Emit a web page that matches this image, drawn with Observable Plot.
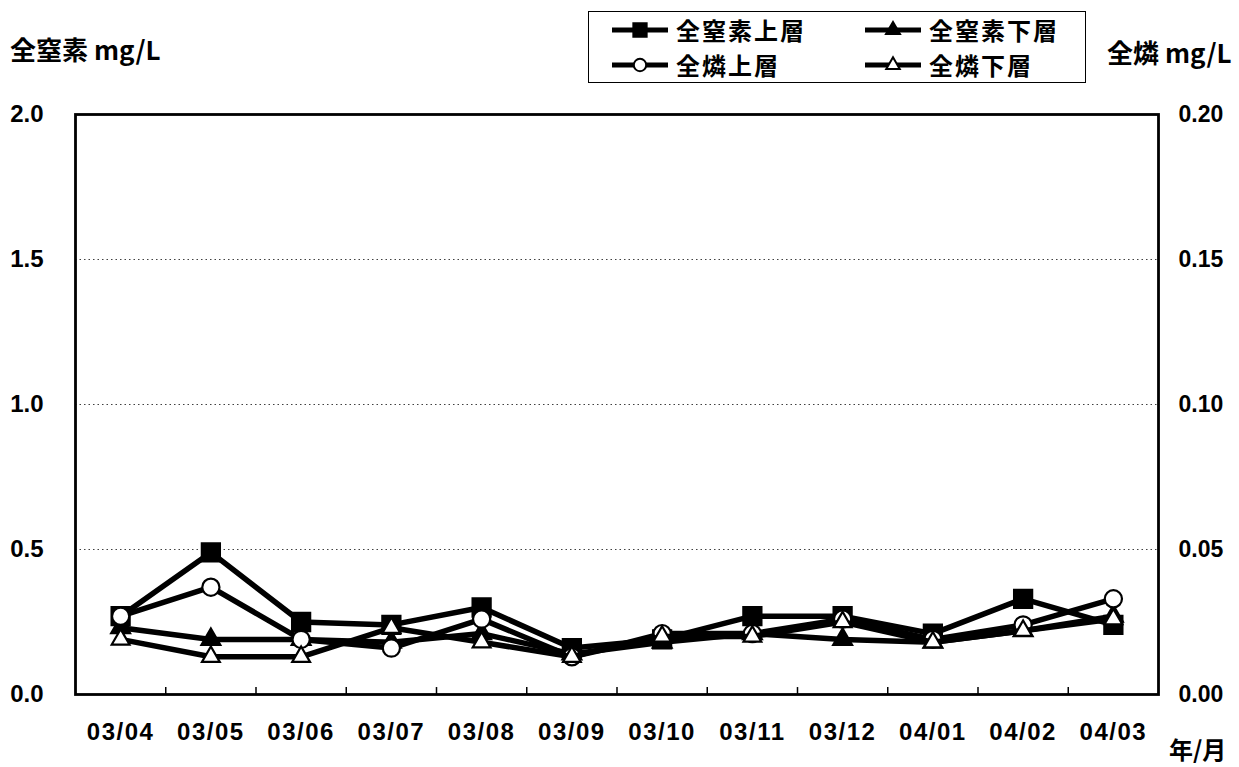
<!DOCTYPE html>
<html><head><meta charset="utf-8">
<script src="https://cdn.jsdelivr.net/npm/d3@7"></script>
<script src="https://cdn.jsdelivr.net/npm/@observablehq/plot@0.6"></script>
<style>
body{margin:0;background:#fff;}
#wrap{position:relative;width:1239px;height:767px;overflow:hidden;background:#fff;font-family:"Noto Sans CJK JP","Liberation Sans",sans-serif;color:#000;}
.lbl{position:absolute;white-space:nowrap;font-weight:700;line-height:1;}
#legend{position:absolute;left:588px;top:11px;width:498px;height:72px;border:1px solid #000;box-sizing:border-box;background:#fff;}
.li{position:absolute;display:flex;align-items:center;font-size:24px;letter-spacing:2px;font-weight:700;line-height:1;height:26px;}
.li svg{margin-right:7px;}
#wrap svg g[aria-label="x-axis tick label"] text{letter-spacing:1.5px;}
</style></head>
<body><div id="wrap"></div>
<script>
const months = ["03/04","03/05","03/06","03/07","03/08","03/09","03/10","03/11","03/12","04/01","04/02","04/03"];
const seriesNames = ["全窒素上層","全窒素下層","全燐上層","全燐下層"];
// 全窒素 (mg/L)
const tnUpper = [0.27,0.49,0.25,0.24,0.30,0.16,0.19,0.27,0.27,0.21,0.33,0.24];
const tnLower = [0.23,0.19,0.19,0.18,0.21,0.14,0.18,0.21,0.19,0.18,0.22,0.27];
// 全燐 (mg/L)
const tpUpper = [0.027,0.037,0.019,0.016,0.026,0.013,0.021,0.021,0.026,0.019,0.024,0.033];
const tpLower = [0.019,0.013,0.013,0.023,0.018,0.013,0.020,0.020,0.025,0.018,0.022,0.026];
const leftTicks = [0,0.5,1.0,1.5,2.0];
const gridTicks = [0.5,1.0,1.5];
const pFactor = 10; // right axis 0.20 ↔ left axis 2.0

const styles = [
  {symbol:"square", fill:"#000", stroke:"#000", r:10.2, lr:7.5},
  {symbol:"triangle", fill:"#000", stroke:"#000", r:7, lr:5.2},
  {symbol:"circle", fill:"#fff", stroke:"#000", r:8.6, lr:6.2},
  {symbol:"triangle", fill:"#fff", stroke:"#000", r:6.6, lr:5}
];
const seriesVals = [tnUpper, tnLower, tpUpper.map(v=>v*pFactor), tpLower.map(v=>v*pFactor)];
const tables = seriesVals.map((vals,k)=>vals.map((v,i)=>({name:seriesNames[k], i, y:v})));

const bounds = d3.range(months.length-1).map(i=>i+0.5);

const marks = [
  Plot.gridY(gridTicks, {stroke:"#000", strokeOpacity:0.75, strokeDasharray:"1.5,3"}),
  Plot.ruleX(bounds, {y1:0, y2:0.024, stroke:"#000", strokeWidth:1.5}),
  Plot.axisY(leftTicks, {anchor:"left", tickSize:0, tickPadding:32, tickFormat:d3.format(".1f"), fontSize:24, label:null}),
  Plot.axisY(leftTicks, {anchor:"right", tickSize:0, tickPadding:20, tickFormat:d=>(d/pFactor).toFixed(2), fontSize:23, label:null}),
  Plot.axisX(d3.range(months.length), {anchor:"bottom", tickSize:0, tickPadding:28, tickFormat:i=>months[i], fontSize:24, label:null})
];
tables.forEach((t,k)=>{
  const s = styles[k];
  marks.push(Plot.line(t, {x:"i", y:"y", stroke:"#000", strokeWidth:5.5, strokeLinejoin:"round"}));
  marks.push(Plot.dot(t, {x:"i", y:"y", symbol:s.symbol, fill:s.fill, stroke:s.stroke, strokeWidth:2.2, r:s.r}));
});
marks.push(Plot.frame({stroke:"#000", strokeWidth:2.8}));

const chart = Plot.plot({
  width:1239, height:767,
  marginLeft:75, marginRight:81, marginTop:114, marginBottom:73,
  style:{fontFamily:"'Liberation Sans', Arial, sans-serif", background:"#fff", color:"#000", fontWeight:"bold"},
  x:{type:"linear", domain:[-0.5, months.length-0.5], axis:null},
  y:{type:"linear", domain:[0,2], axis:null},
  marks
});
const wrap = document.getElementById("wrap");
chart.style.position="absolute"; chart.style.left="0"; chart.style.top="0";
wrap.appendChild(chart);

function addLabel(text, left, top, size){
  const d=document.createElement("div"); d.className="lbl"; d.textContent=text;
  d.style.left=left+"px"; d.style.top=top+"px"; d.style.fontSize=size+"px";
  wrap.appendChild(d); return d;
}
addLabel("全窒素 mg/L", 10, 36, 26);
addLabel("全燐 mg/L", 1107, 39, 26);
addLabel("年/月", 1169, 737, 24);

const legend=document.createElement("div"); legend.id="legend"; wrap.appendChild(legend);
const pos=[[22,5],[275,5],[22,40],[275,40]];
seriesNames.forEach((n,k)=>{
  const s=styles[k];
  const it=document.createElement("div"); it.className="li";
  it.style.left=pos[k][0]+"px"; it.style.top=pos[k][1]+"px";
  const sym = {square:d3.symbolSquare, triangle:d3.symbolTriangle, circle:d3.symbolCircle}[s.symbol];
  const path = d3.symbol(sym, Math.PI*s.lr*s.lr)();
  it.innerHTML = `<svg width="58" height="26" viewBox="0 0 58 26"><line x1="1" x2="57" y1="13" y2="13" stroke="#000" stroke-width="5"/><path transform="translate(29,13)" d="${path}" fill="${s.fill}" stroke="#000" stroke-width="2"/></svg><span>${n}</span>`;
  legend.appendChild(it);
});
</script></body></html>
